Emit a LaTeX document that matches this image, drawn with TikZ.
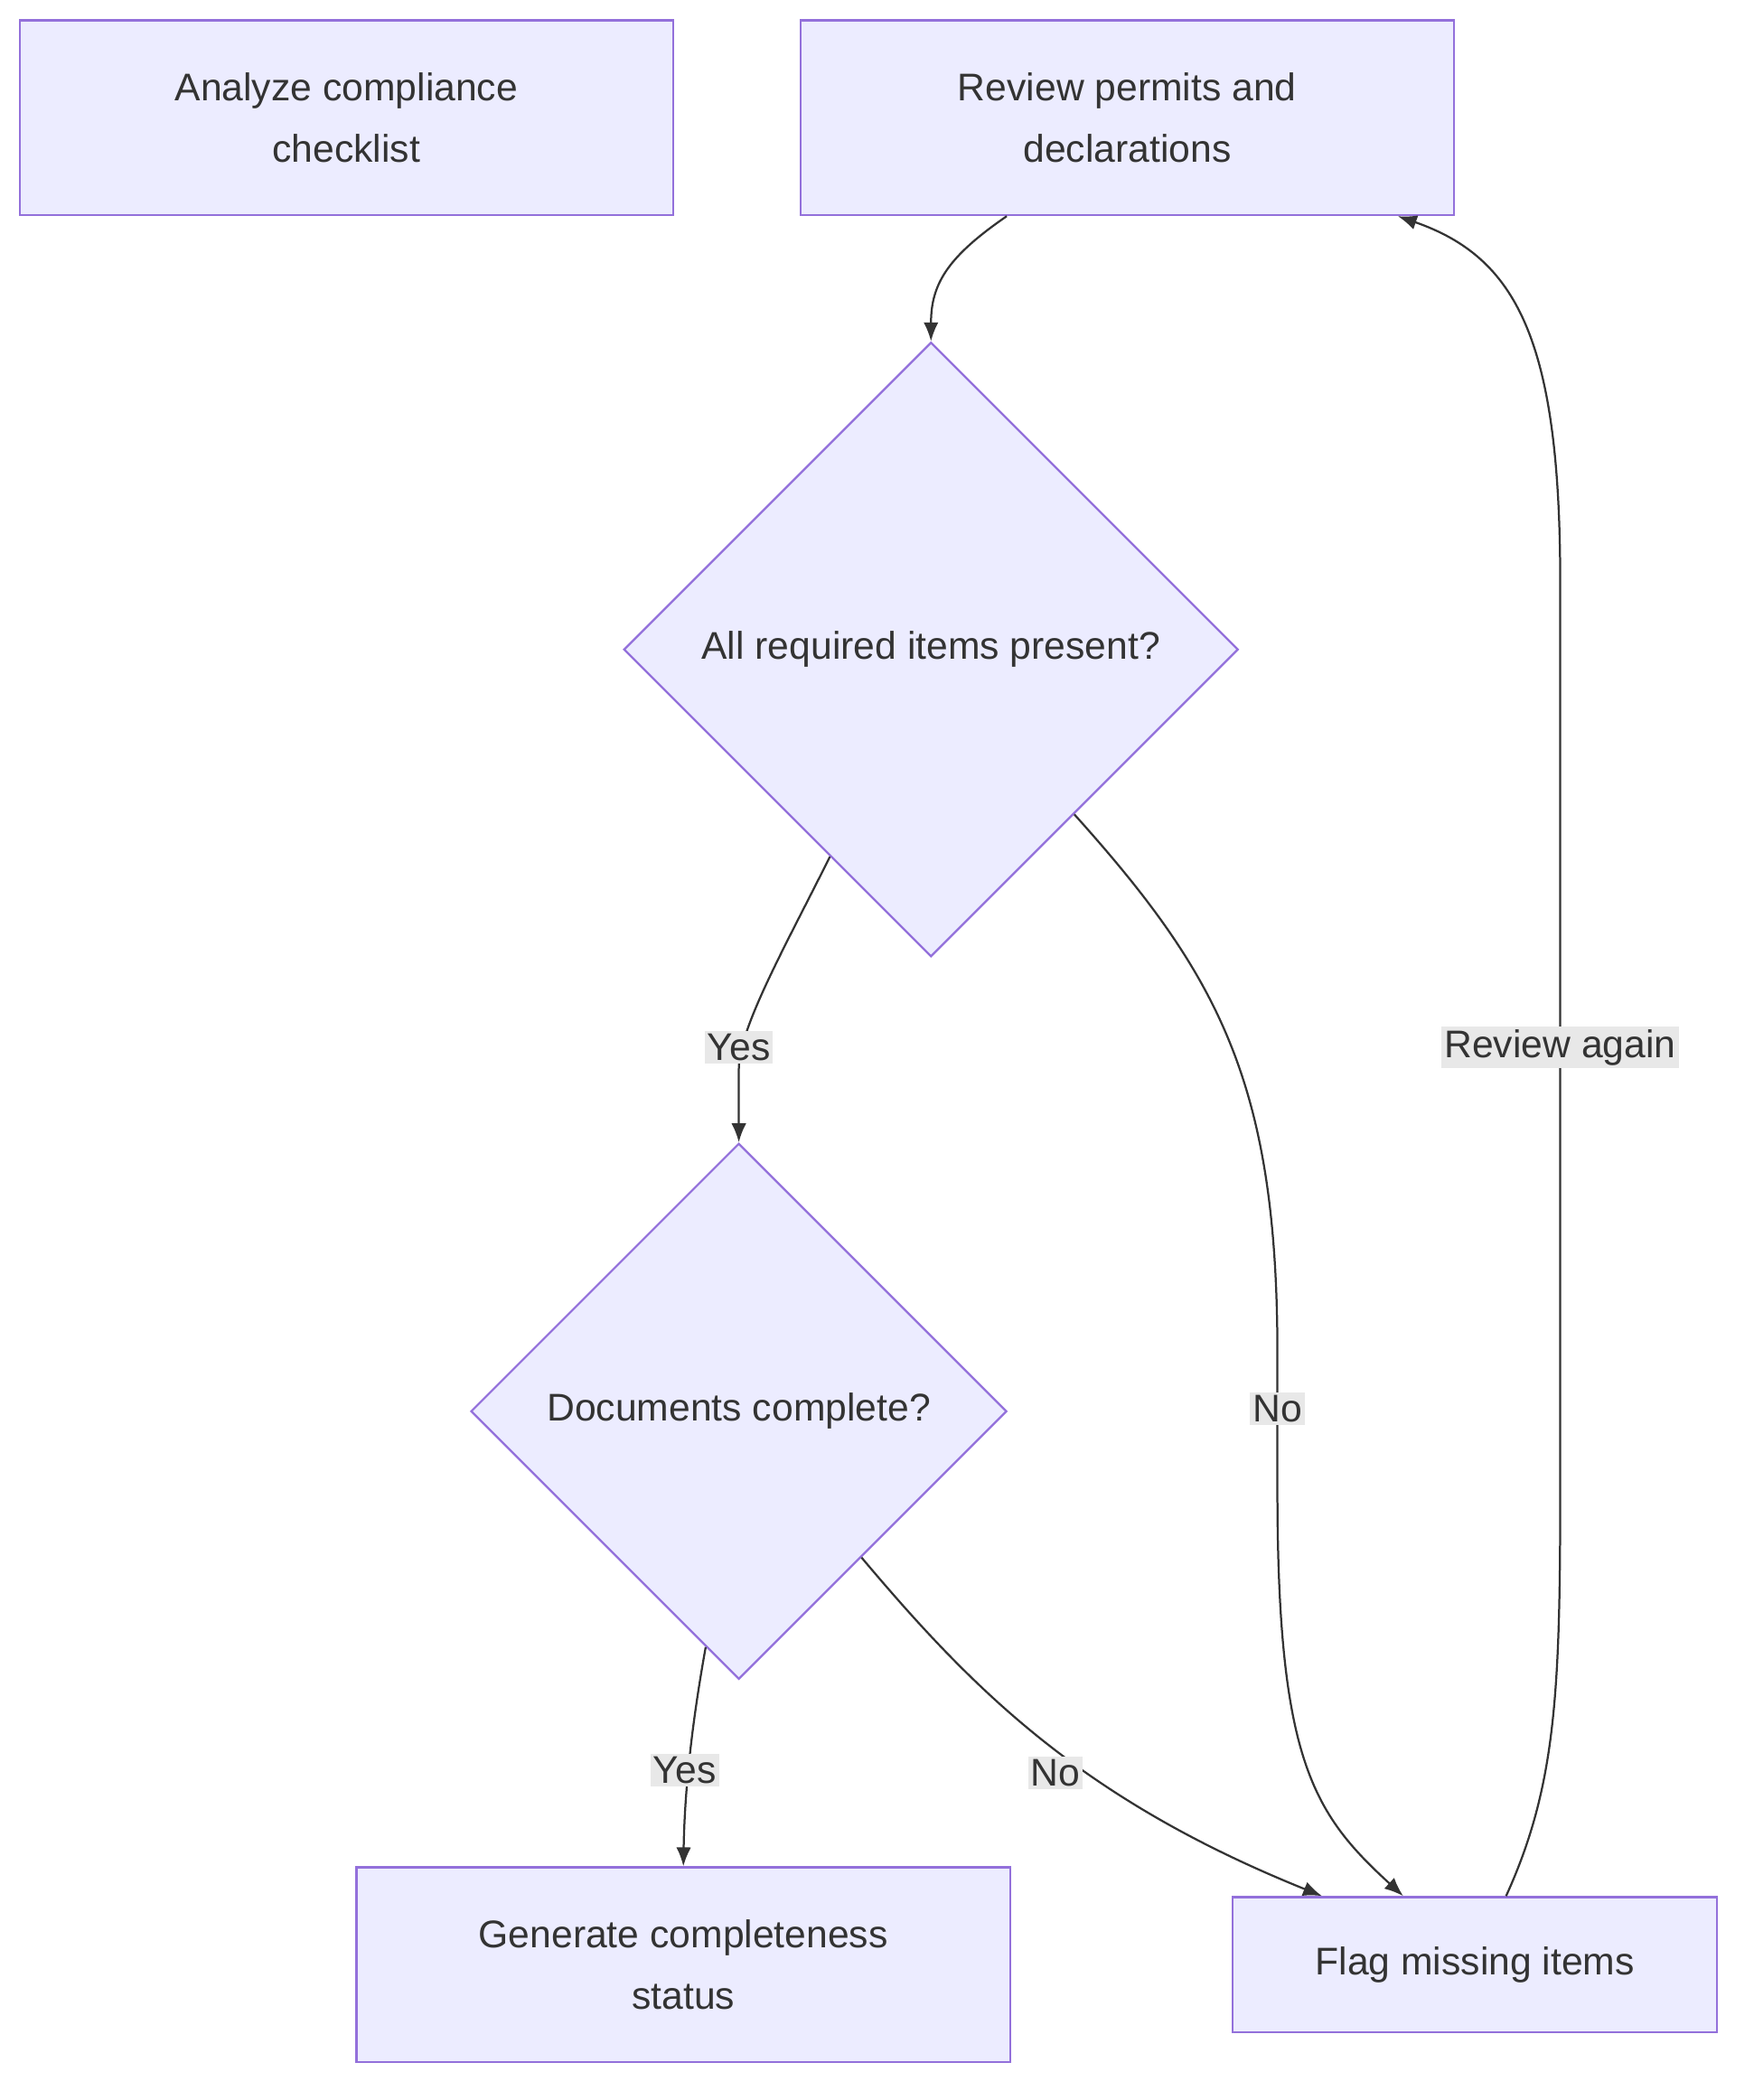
\documentclass[tikz,border=0pt]{standalone}
\usepackage{fontspec}
\setmainfont{Liberation Sans}
\usetikzlibrary{shapes.geometric,arrows.meta}
\definecolor{nfill}{HTML}{ECECFF}
\definecolor{nline}{HTML}{9370DB}
\definecolor{ecol}{HTML}{333333}
\definecolor{lfill}{HTML}{E8E8E8}
\begin{document}
\begin{tikzpicture}[x=1pt,y=-1pt,
  every node/.style={font=\fontsize{28.5}{45}\selectfont, text=ecol},
  box/.style={draw=nline, fill=nfill, line width=1.5pt, minimum width=483pt, minimum height=144pt, align=center, inner sep=0pt},
  dia/.style={draw=nline, fill=nfill, line width=1.5pt, diamond, inner sep=0pt, align=center},
  edge/.style={draw=ecol, line width=1.5pt, -{Latex[length=14pt,width=11pt]}},
  lab/.style={fill=lfill, inner sep=2pt}]
\useasboundingbox[fill=white] (0,0) rectangle (1296,1552);
\node[box] (a) at (256,87) {Analyze compliance\\checklist};
\node[box] (b) at (833,87) {Review permits and\\declarations};
\node[dia, minimum width=454pt, minimum height=454pt] (d1) at (688,480) {All required items present?};
\node[dia, minimum width=396pt, minimum height=396pt] (d2) at (546,1043) {Documents complete?};
\node[box] (g) at (505,1452) {Generate completeness\\status};
\node[box, minimum width=358pt, minimum height=100pt] (f) at (1090,1452) {Flag missing items};
\draw[edge] ([xshift=-89pt]b.south) .. controls (700,190) and (688,210) .. (d1.north);
\draw[edge] (d1.-116) .. controls (580,700) and (546,760) .. (546,790) -- (d2.north);
\node[lab] at (546,774) {Yes};
\draw[edge] (d1.-49.5) .. controls (900,720) and (944,800) .. (944,1000) -- (944,1100) .. controls (944,1300) and (970,1340) .. ([xshift=-53pt]f.north);
\node[lab] at (944,1041) {No};
\draw[edge] (d2.-98.5) .. controls (512,1270) and (506,1320) .. (g.north);
\node[lab] at (506,1308) {Yes};
\draw[edge] (d2.-50) .. controls (720,1250) and (800,1330) .. ([xshift=-113pt]f.north);
\node[lab] at (780,1310) {No};
\draw[edge] ([xshift=23pt]f.north) .. controls (1150,1320) and (1153,1250) .. (1153,1100) -- (1153,430) .. controls (1153,250) and (1120,190) .. ([xshift=200pt]b.south);
\node[lab] at (1153,774) {Review again};
\end{tikzpicture}
\end{document}
